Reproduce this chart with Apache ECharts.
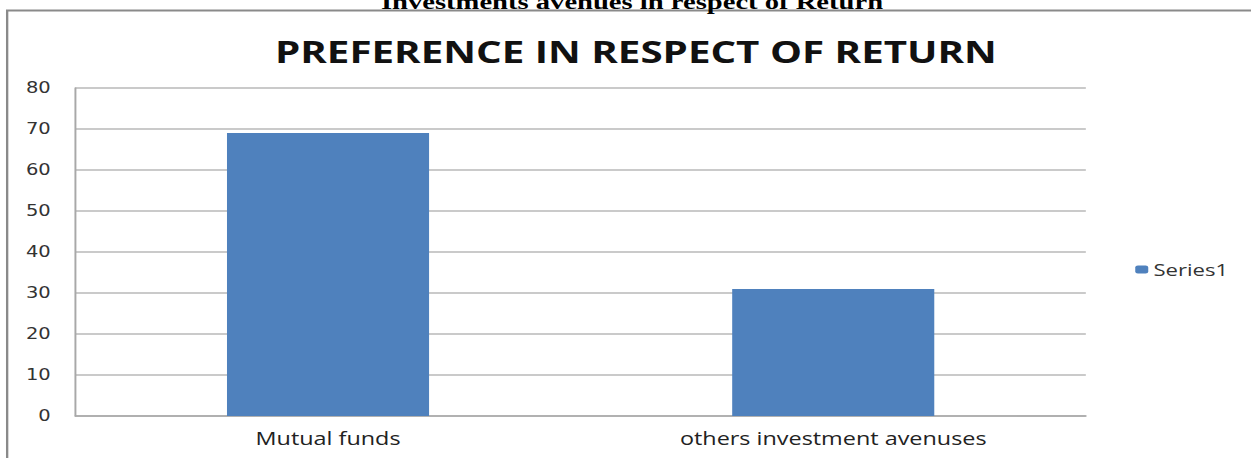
<!DOCTYPE html>
<html><head><meta charset="utf-8">
<script src="https://cdn.jsdelivr.net/npm/echarts@6/dist/echarts.min.js"></script>
<style>
html,body{margin:0;padding:0;background:#fff;overflow:hidden;width:1251px;height:458px}
#c{width:962px;height:458px;transform:scaleX(1.3004);transform-origin:0 0}
</style>
</head><body><div id="c"></div>
<script>
const categories = ["Mutual funds", "others investment avenuses"];
const seriesName = "Series1";
const values = [69, 31];
const yTicks = [0, 10, 20, 30, 40, 50, 60, 70, 80];

const chart = echarts.init(document.getElementById('c'), null, {renderer: 'svg'});
chart.setOption({
  animation: false,
  backgroundColor: '#ffffff',
  title: {
    text: 'PREFERENCE IN RESPECT OF RETURN',
    left: 484, top: 31, textAlign: 'center',
    textStyle: {fontFamily: 'Open Sans, sans-serif', fontWeight: 'bold', fontSize: 31, color: '#111'}
  },
  graphic: [
    {type: 'rect', shape: {x: 5.5, y: 10.5, width: 1000, height: 460}, style: {fill: 'none', stroke: '#8a8a8a', lineWidth: 1.8}},
    {type: 'text', x: 486, y: 13, style: {text: 'Investments avenues in respect of Return', font: 'bold 22px "Liberation Serif", serif', fill: '#000', textAlign: 'center', textVerticalAlign: 'bottom'}}
  ],
  legend: {
    data: [seriesName], left: 868, top: 256, orient: 'vertical',
    itemWidth: 10, itemHeight: 8, itemGap: 4,
    textStyle: {fontFamily: 'Open Sans, sans-serif', fontSize: 17, color: '#333', padding: [0, 0, 0, -1]}
  },
  grid: {left: 58, right: 127, top: 88, bottom: 42},
  xAxis: {
    type: 'category', data: categories,
    axisLine: {lineStyle: {color: '#a8a8a8', width: 1.5}},
    axisTick: {show: false},
    axisLabel: {fontFamily: 'Open Sans, sans-serif', fontSize: 18, color: '#222', margin: 13}
  },
  yAxis: {
    type: 'value', min: yTicks[0], max: yTicks[yTicks.length - 1], interval: 10,
    axisLine: {show: true, lineStyle: {color: '#a8a8a8', width: 1.5}},
    axisTick: {show: false},
    splitLine: {lineStyle: {color: '#b8b8b8', width: 1.5}},
    axisLabel: {fontFamily: 'DejaVu Sans, Verdana, sans-serif', fontSize: 15, color: '#333', margin: 19}
  },
  series: [{
    name: seriesName, type: 'bar', data: values,
    barWidth: '40%',
    itemStyle: {color: '#4f81bd'}
  }]
});
</script></body></html>
